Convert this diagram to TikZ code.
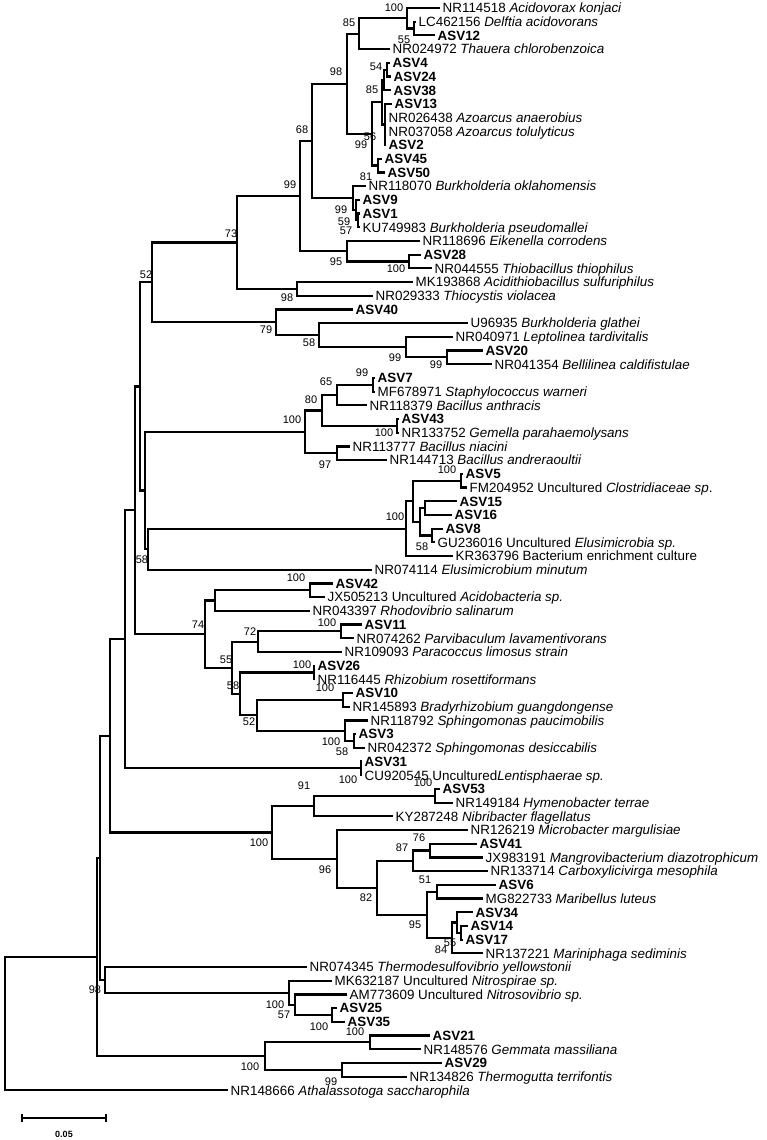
\documentclass[tikz,border=0pt]{standalone}
\usepackage{fontspec}
\setmainfont{Liberation Sans}
\usetikzlibrary{calc}
\newcommand\inode[4]{\path let \p1=(#3), \p2=(#4) in coordinate (#1) at (#2pt,{0.5*\y1+0.5*\y2});}
\newcommand\Y[1]{8+(#1-1)*13.7}
\begin{document}
\begin{tikzpicture}[x=1pt,y=-1pt,
 leaf/.style={anchor=west, inner xsep=2.5pt, inner ysep=0pt, text height=9.6pt, text depth=0pt, font=\fontsize{13.4}{14}\selectfont},
 asv/.style={leaf, font=\fontsize{13.4}{14}\selectfont\bfseries},
 bs/.style={inner sep=0pt, font=\fontsize{11}{12}\selectfont},
 br/.style={line width=2.2pt}]
\fill[white] (0,0) rectangle (767,1140);
\useasboundingbox (0,0) rectangle (767,1140);
% leaves
\node[leaf] (L1) at (440,{\Y{1}}) {NR114518 \textit{Acidovorax konjaci}};
\node[leaf] (L2) at (416,{\Y{2}}) {LC462156 \textit{Delftia acidovorans}};
\node[asv] (L3) at (435,{\Y{3}}) {ASV12};
\node[leaf] (L4) at (390,{\Y{4}}) {NR024972 \textit{Thauera chlorobenzoica}};
\node[asv] (L5) at (390,{\Y{5}}) {ASV4};
\node[asv] (L6) at (391,{\Y{6}}) {ASV24};
\node[asv] (L7) at (391,{\Y{7}}) {ASV38};
\node[asv] (L8) at (392,{\Y{8}}) {ASV13};
\node[leaf] (L9) at (386,{\Y{9}}) {NR026438 \textit{Azoarcus anaerobius}};
\node[leaf] (L10) at (386,{\Y{10}}) {NR037058 \textit{Azoarcus tolulyticus}};
\node[asv] (L11) at (386,{\Y{11}}) {ASV2};
\node[asv] (L12) at (382,{\Y{12}}) {ASV45};
\node[asv] (L13) at (385,{\Y{13}}) {ASV50};
\node[leaf] (L14) at (366,{\Y{14}}) {NR118070 \textit{Burkholderia oklahomensis}};
\node[asv] (L15) at (360,{\Y{15}}) {ASV9};
\node[asv] (L16) at (360,{\Y{16}}) {ASV1};
\node[leaf] (L17) at (360,{\Y{17}}) {KU749983 \textit{Burkholderia pseudomallei}};
\node[leaf] (L18) at (420,{\Y{18}}) {NR118696 \textit{Eikenella corrodens}};
\node[asv] (L19) at (421,{\Y{19}}) {ASV28};
\node[leaf] (L20) at (432,{\Y{20}}) {NR044555 \textit{Thiobacillus thiophilus}};
\node[leaf] (L21) at (413,{\Y{21}}) {MK193868 \textit{Acidithiobacillus sulfuriphilus}};
\node[leaf] (L22) at (373,{\Y{22}}) {NR029333 \textit{Thiocystis violacea}};
\node[asv] (L23) at (353,{\Y{23}}) {ASV40};
\node[leaf] (L24) at (468,{\Y{24}}) {U96935 \textit{Burkholderia glathei}};
\node[leaf] (L25) at (453,{\Y{25}}) {NR040971 \textit{Leptolinea tardivitalis}};
\node[asv] (L26) at (483,{\Y{26}}) {ASV20};
\node[leaf] (L27) at (492,{\Y{27}}) {NR041354 \textit{Bellilinea caldifistulae}};
\node[asv] (L28) at (375,{\Y{28}}) {ASV7};
\node[leaf] (L29) at (375,{\Y{29}}) {MF678971 \textit{Staphylococcus warneri}};
\node[leaf] (L30) at (367,{\Y{30}}) {NR118379 \textit{Bacillus anthracis}};
\node[asv] (L31) at (399,{\Y{31}}) {ASV43};
\node[leaf] (L32) at (399,{\Y{32}}) {NR133752 \textit{Gemella parahaemolysans}};
\node[leaf] (L33) at (350,{\Y{33}}) {NR113777 \textit{Bacillus niacini}};
\node[leaf] (L34) at (387,{\Y{34}}) {NR144713 \textit{Bacillus andreraoultii}};
\node[asv] (L35) at (463,{\Y{35}}) {ASV5};
\node[leaf] (L36) at (467,{\Y{36}}) {FM204952 Uncultured \textit{Clostridiaceae sp}.};
\node[asv] (L37) at (457,{\Y{37}}) {ASV15};
\node[asv] (L38) at (452,{\Y{38}}) {ASV16};
\node[asv] (L39) at (443,{\Y{39}}) {ASV8};
\node[leaf] (L40) at (435,{\Y{40}}) {GU236016 Uncultured \textit{Elusimicrobia sp.}};
\node[leaf] (L41) at (453,{\Y{41}}) {KR363796 Bacterium enrichment culture};
\node[leaf] (L42) at (372,{\Y{42}}) {NR074114 \textit{Elusimicrobium minutum}};
\node[asv] (L43) at (333,{\Y{43}}) {ASV42};
\node[leaf] (L44) at (325,{\Y{44}}) {JX505213 Uncultured \textit{Acidobacteria sp.}};
\node[leaf] (L45) at (310,{\Y{45}}) {NR043397 \textit{Rhodovibrio salinarum}};
\node[asv] (L46) at (362,{\Y{46}}) {ASV11};
\node[leaf] (L47) at (354,{\Y{47}}) {NR074262 \textit{Parvibaculum lavamentivorans}};
\node[leaf] (L48) at (342,{\Y{48}}) {NR109093 \textit{Paracoccus limosus strain}};
\node[asv] (L49) at (315,{\Y{49}}) {ASV26};
\node[leaf] (L50) at (315,{\Y{50}}) {NR116445 \textit{Rhizobium rosettiformans}};
\node[asv] (L51) at (353,{\Y{51}}) {ASV10};
\node[leaf] (L52) at (350,{\Y{52}}) {NR145893 \textit{Bradyrhizobium guangdongense}};
\node[leaf] (L53) at (368,{\Y{53}}) {NR118792 \textit{Sphingomonas paucimobilis}};
\node[asv] (L54) at (356,{\Y{54}}) {ASV3};
\node[leaf] (L55) at (365,{\Y{55}}) {NR042372 \textit{Sphingomonas desiccabilis}};
\node[asv] (L56) at (362,{\Y{56}}) {ASV31};
\node[leaf] (L57) at (362,{\Y{57}}) {CU920545 Uncultured\textit{Lentisphaerae sp.}};
\node[asv] (L58) at (440,{\Y{58}}) {ASV53};
\node[leaf] (L59) at (453,{\Y{59}}) {NR149184 \textit{Hymenobacter terrae}};
\node[leaf] (L60) at (393,{\Y{60}}) {KY287248 \textit{Nibribacter flagellatus}};
\node[leaf] (L61) at (468,{\Y{61}}) {NR126219 \textit{Microbacter margulisiae}};
\node[asv] (L62) at (477,{\Y{62}}) {ASV41};
\node[leaf] (L63) at (483,{\Y{63}}) {JX983191 \textit{Mangrovibacterium diazotrophicum}};
\node[leaf] (L64) at (488,{\Y{64}}) {NR133714 \textit{Carboxylicivirga mesophila}};
\node[asv] (L65) at (496,{\Y{65}}) {ASV6};
\node[leaf] (L66) at (483,{\Y{66}}) {MG822733 \textit{Maribellus luteus}};
\node[asv] (L67) at (473,{\Y{67}}) {ASV34};
\node[asv] (L68) at (468,{\Y{68}}) {ASV14};
\node[asv] (L69) at (463,{\Y{69}}) {ASV17};
\node[leaf] (L70) at (483,{\Y{70}}) {NR137221 \textit{Mariniphaga sediminis}};
\node[leaf] (L71) at (307,{\Y{71}}) {NR074345 \textit{Thermodesulfovibrio yellowstonii}};
\node[leaf] (L72) at (332,{\Y{72}}) {MK632187 Uncultured \textit{Nitrospirae sp.}};
\node[leaf] (L73) at (347,{\Y{73}}) {AM773609 Uncultured \textit{Nitrosovibrio sp.}};
\node[asv] (L74) at (337,{\Y{74}}) {ASV25};
\node[asv] (L75) at (345,{\Y{75}}) {ASV35};
\node[asv] (L76) at (430,{\Y{76}}) {ASV21};
\node[leaf] (L77) at (421,{\Y{77}}) {NR148576 \textit{Gemmata massiliana}};
\node[asv] (L78) at (442,{\Y{78}}) {ASV29};
\node[leaf] (L79) at (407,{\Y{79}}) {NR134826 \textit{Thermogutta terrifontis}};
\node[leaf] (L80) at (228,{\Y{80}}) {NR148666 \textit{Athalassotoga saccharophila}};
% internal nodes
\inode{n55a}{414}{L2}{L3}
\inode{n100a}{407}{L1}{n55a}
\inode{n85a}{359}{n100a}{L4}
\inode{n54}{387}{L5}{L6}
\inode{n85b}{384}{n54}{L7}
\inode{nP}{385}{L8}{L11}
\inode{n56}{382}{n85b}{nP}
\inode{nB}{378}{L12}{L13}
\inode{n99a}{372}{n56}{nB}
\inode{n98a}{347}{n85a}{n99a}
\inode{n59}{358}{L16}{L17}
\inode{n99b}{356}{L15}{n59}
\inode{n81}{353}{L14}{n99b}
\inode{n68}{312}{n98a}{n81}
\inode{n100b}{409}{L19}{L20}
\inode{n95a}{347}{L18}{n100b}
\inode{n99t}{300}{n68}{n95a}
\inode{n98b}{297}{L21}{L22}
\inode{n73}{237}{n99t}{n98b}
\inode{n99d}{447}{L26}{L27}
\inode{n99c}{406}{L25}{n99d}
\inode{n58a}{319}{L24}{n99c}
\inode{n79}{276}{L23}{n58a}
\inode{n52a}{152}{n73}{n79}
\inode{n99e}{373}{L28}{L29}
\inode{n65}{337}{n99e}{L30}
\inode{n100f}{397}{L31}{L32}
\inode{n80}{322}{n65}{n100f}
\inode{n97}{337}{L33}{L34}
\inode{n100g}{305}{n80}{n97}
\inode{n100h}{461}{L35}{L36}
\inode{nZ}{425}{L37}{L38}
\inode{n58b}{432}{L39}{L40}
\inode{nY}{420}{nZ}{n58b}
\inode{nX}{413}{n100h}{nY}
\inode{n100i}{406}{nX}{L41}
\inode{nE}{148}{n100i}{L42}
\inode{nF}{145}{n100g}{nE}
\inode{nG}{140}{n52a}{nF}
\inode{n100j}{310}{L43}{L44}
\inode{nR}{215}{n100j}{L45}
\inode{n100k}{341}{L46}{L47}
\inode{n72}{258}{n100k}{L48}
\inode{n100l}{314}{L49}{L50}
\inode{n100m}{343}{L51}{L52}
\inode{n58c}{354}{L54}{L55}
\inode{n100n}{345}{L53}{n58c}
\inode{n52b}{257}{n100m}{n100n}
\inode{n58d}{240}{n100l}{n52b}
\inode{n55b}{232}{n72}{n58d}
\inode{n74}{205}{nR}{n55b}
\inode{nH}{135}{nG}{n74}
\inode{n100o}{361}{L56}{L57}
\inode{nI}{125}{nH}{n100o}
\inode{n100p}{435}{L58}{L59}
\inode{n91}{314}{n100p}{L60}
\inode{n76}{430}{L62}{L63}
\inode{n87}{413}{n76}{L64}
\inode{n51}{437}{L65}{L66}
\inode{nA1}{461}{L68}{L69}
\inode{nA2}{457}{L67}{nA1}
\inode{n84}{452}{nA2}{L70}
\inode{n95b}{427}{n51}{n84}
\inode{n82}{377}{n87}{n95b}
\inode{n96}{337}{L61}{n82}
\inode{n100q}{272}{n91}{n96}
\inode{nJ}{110}{nI}{n100q}
\inode{n100s}{332}{L74}{L75}
\inode{n57}{295}{L73}{n100s}
\inode{n100r}{289}{L72}{n57}
\inode{n98c}{105}{L71}{n100r}
\inode{nK}{100}{nJ}{n98c}
\inode{n100t}{370}{L76}{L77}
\inode{n99f}{342}{L78}{L79}
\inode{n100u}{265}{n100t}{n99f}
\inode{nL}{97}{nK}{n100u}
\inode{root}{5}{nL}{L80}
% branches
\foreach \p/\c in {n55a/L2,n55a/L3,n100a/L1,n100a/n55a,n85a/n100a,n85a/L4,
 n54/L5,n54/L6,n85b/n54,n85b/L7,nP/L8,nP/L9,nP/L10,nP/L11,n56/n85b,n56/nP,
 nB/L12,nB/L13,n99a/n56,n99a/nB,n98a/n85a,n98a/n99a,n59/L16,n59/L17,
 n99b/L15,n99b/n59,n81/L14,n81/n99b,n68/n98a,n68/n81,n100b/L19,n100b/L20,
 n95a/L18,n95a/n100b,n99t/n68,n99t/n95a,n98b/L21,n98b/L22,n73/n99t,n73/n98b,
 n99d/L26,n99d/L27,n99c/L25,n99c/n99d,n58a/L24,n58a/n99c,n79/L23,n79/n58a,
 n52a/n73,n52a/n79,n99e/L28,n99e/L29,n65/n99e,n65/L30,n100f/L31,n100f/L32,
 n80/n65,n80/n100f,n97/L33,n97/L34,n100g/n80,n100g/n97,n100h/L35,n100h/L36,
 nZ/L37,nZ/L38,n58b/L39,n58b/L40,nY/nZ,nY/n58b,nX/n100h,nX/nY,n100i/nX,n100i/L41,
 nE/n100i,nE/L42,nF/n100g,nF/nE,nG/n52a,nG/nF,n100j/L43,n100j/L44,nR/n100j,nR/L45,
 n100k/L46,n100k/L47,n72/n100k,n72/L48,n100l/L49,n100l/L50,n100m/L51,n100m/L52,
 n58c/L54,n58c/L55,n100n/L53,n100n/n58c,n52b/n100m,n52b/n100n,n58d/n100l,n58d/n52b,
 n55b/n72,n55b/n58d,n74/nR,n74/n55b,nH/nG,nH/n74,n100o/L56,n100o/L57,nI/nH,nI/n100o,
 n100p/L58,n100p/L59,n91/n100p,n91/L60,n76/L62,n76/L63,n87/n76,n87/L64,n51/L65,n51/L66,
 nA1/L68,nA1/L69,nA2/L67,nA2/nA1,n84/nA2,n84/L70,n95b/n51,n95b/n84,n82/n87,n82/n95b,
 n96/L61,n96/n82,n100q/n91,n100q/n96,nJ/nI,nJ/n100q,n100s/L74,n100s/L75,n57/L73,n57/n100s,
 n100r/L72,n100r/n57,n98c/L71,n98c/n100r,nK/nJ,nK/n98c,n100t/L76,n100t/L77,n99f/L78,n99f/L79,
 n100u/n100t,n100u/n99f,nL/nK,nL/n100u,root/nL,root/L80}
 \draw[br] (\p) |- (\c);
% bootstrap values
\foreach \x/\y/\t in {394/8/100,349/23/85,404/40/55,336/72/98,376/67/54,372/90/85,302/130/68,
 370/137/56,361/145/99,290/185/99,366/177/81,341/210/99,344/222/59,346/231/57,336/262/95,
 396/269/100,287/298/98,266/330/79,309/343/58,395/358/99,436/365/99,231/234/73,146/275/52,
 362/373/99,326/382/65,311/400/80,292/420/100,384/433/100,325/465/97,447/470/100,395/517/100,
 422/547/58,142/560/58,296/578/100,198/625/74,327/623/100,250/632/72,226/660/55,302/665/100,
 325/688/100,233/686/58,249/722/52,331/742/100,342/752/58,348/780/100,423/783/100,304/786/91,
 259/843/100,419/838/76,402/848/87,325/870/96,425/880/51,366/898/82,415/925/95,450/943/55,
 441/950/84,95/990/98,275/1005/100,284/1015/57,319/1027/100,355/1032/100,250/1067/100,331/1082/99}
 \node[bs] at (\x,\y) {\t};
% scale bar
\coordinate (sbA) at (22,1118);
\coordinate (sbB) at (106,1118);
\draw[line width=1.8pt] (sbA) -- (sbB);
\draw[line width=1.8pt] ($(sbA)+(0,-4)$) -- ($(sbA)+(0,4)$);
\draw[line width=1.8pt] ($(sbB)+(0,-4)$) -- ($(sbB)+(0,4)$);
\node[font=\fontsize{9}{10}\selectfont\bfseries, inner sep=0pt] (sbt) at (64,1134) {0.05};
\end{tikzpicture}
\end{document}
